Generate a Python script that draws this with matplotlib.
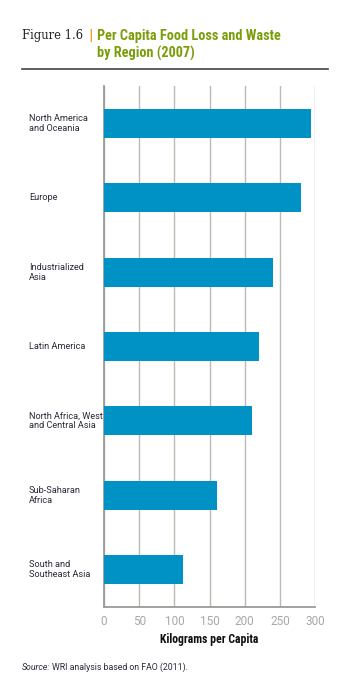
import matplotlib
matplotlib.use("Agg")
import matplotlib.pyplot as plt
from matplotlib import font_manager as fm

regions = ["North America\nand Oceania", "Europe", "Industrialized\nAsia", "Latin America",
           "North Africa, West\nand Central Asia", "Sub-Saharan\nAfrica", "South and\nSoutheast Asia"]
values = [295, 280, 240, 220, 210, 161, 112]
xticks = [0, 50, 100, 150, 200, 250, 300]

names = {f.name for f in fm.fontManager.ttflist}
narrow = "Liberation Sans Narrow" if "Liberation Sans Narrow" in names else "Roboto"
cond = "Roboto Condensed" if "Roboto Condensed" in names else narrow

W, H = 361, 693
fig = plt.figure(figsize=(W/100, H/100), dpi=100)
ax = fig.add_axes([104/W, 1-607/H, (315-104)/W, (607-86)/H])

ypos = list(range(len(regions)))
ax.barh(ypos, values, height=0.39, color="#0092c4", zorder=3)
ax.set_ylim(len(regions)-0.5, -0.5)
ax.set_xlim(0, 300)
ax.set_xticks(xticks)
ax.set_xticklabels([str(t) for t in xticks], fontsize=8.5, color="#a8a8a8", family=narrow)
ax.tick_params(axis="x", length=0, pad=6)
ax.set_yticks([])
for t in xticks:
    ax.axvline(t, color="#bcbcb6", lw=1.0, zorder=1)
for s in ["top", "right"]:
    ax.spines[s].set_visible(False)
ax.spines["left"].set_color("#9a9a96")
ax.spines["left"].set_linewidth(1.3)
ax.spines["bottom"].set_color("#9a9a96")
ax.spines["bottom"].set_linewidth(1.3)

for y, r in zip(ypos, regions):
    ax.text(-75/0.703, y, r, transform=ax.transData, ha="left", va="center",
            fontsize=6.6, color="#2a2a3a", family=narrow, linespacing=1.15)

ax.set_xlabel("Kilograms per Capita", fontsize=8.5, fontweight="bold", color="#111111",
              family=cond, labelpad=3)

fig.text(22/W, 1-36/H, "Figure 1.6", fontsize=8.3, family="DejaVu Serif", color="#222222",
         va="center", ha="left")
fig.text(88/W, 1-36/H, "|", fontsize=9, fontweight="bold", color="#f0a030", va="center",
         ha="left", family="DejaVu Sans")
fig.text(97/W, 1-36/H, "Per Capita Food Loss and Waste", fontsize=10.3, fontweight="bold",
         color="#7a9e0a", family=cond, va="center", ha="left")
fig.text(97/W, 1-53/H, "by Region (2007)", fontsize=10.3, fontweight="bold",
         color="#7a9e0a", family=cond, va="center", ha="left")
fig.add_artist(plt.Line2D([22/W, 328/W], [1-69/H, 1-69/H], color="#444444", lw=1.2))

fig.text(22/W, 1-667/H, "Source:", fontsize=6.3, style="italic", color="#2a2a3a",
         family=narrow, va="center", ha="left")
fig.text(52/W, 1-667/H, "WRI analysis based on FAO (2011).", fontsize=6.3, color="#2a2a3a",
         family=narrow, va="center", ha="left")

fig.savefig("out.png", dpi=100, facecolor="white")
